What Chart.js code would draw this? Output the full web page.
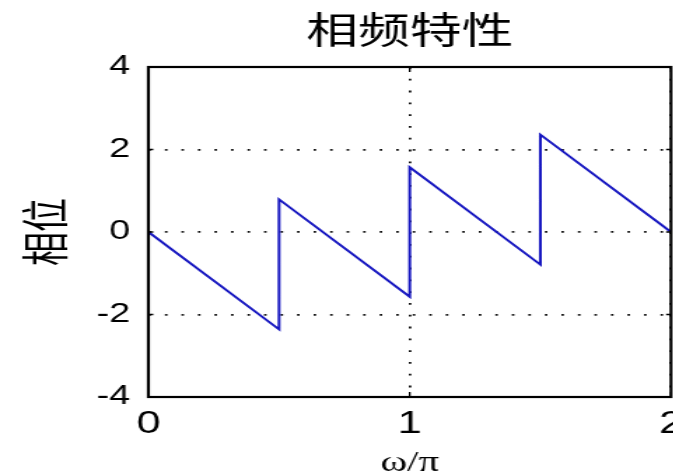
<!DOCTYPE html>
<html>
<head>
<meta charset="utf-8">
<script src="https://cdn.jsdelivr.net/npm/chart.js@4"></script>
<style>
  html, body { margin: 0; padding: 0; background: #fff; overflow: hidden; }
  #wrap { width: 673px; height: 474px; overflow: hidden; position: relative; background: #fff; }
  /* the figure is drawn narrow and widened horizontally */
  #c { position: absolute; left: 0; top: 0; transform: scaleX(1.4); transform-origin: 0 0; }
</style>
</head>
<body>
<div id="wrap"><canvas id="c" width="481" height="474"></canvas></div>
<script>
// phase response: frequency (in units of pi) and phase (rad), vertices of the wrapped line
const omegaOverPi = [0, 0.5, 0.5, 1, 1, 1.5, 1.5, 2];
const phase       = [0, -2.36, 0.79, -1.57, 1.57, -0.79, 2.36, 0];

const xTickValues = [0, 1, 2];
const yTickValues = [-4, -2, 0, 2, 4];

const titleText = '相频特性';
const xTitle = 'ω/π';
const yTitle = '相位';

const points = omegaOverPi.map((w, i) => ({ x: w, y: phase[i] }));

// axes box with short inward tick marks on all four sides
const frame = {
  id: 'frame',
  afterDatasetsDraw(chart) {
    const { ctx, chartArea: a, scales: { x, y } } = chart;
    ctx.save();
    ctx.strokeStyle = '#000';
    ctx.lineWidth = 1.3;
    ctx.beginPath();
    x.ticks.forEach(t => {
      const px = x.getPixelForValue(t.value);
      ctx.moveTo(px, a.bottom); ctx.lineTo(px, a.bottom - 5);
      ctx.moveTo(px, a.top);    ctx.lineTo(px, a.top + 5);
    });
    y.ticks.forEach(t => {
      const py = y.getPixelForValue(t.value);
      ctx.moveTo(a.left, py);  ctx.lineTo(a.left + 3.5, py);
      ctx.moveTo(a.right, py); ctx.lineTo(a.right - 3.5, py);
    });
    ctx.stroke();
    ctx.lineWidth = 2.2;
    ctx.strokeRect(a.left, a.top, a.right - a.left, a.bottom - a.top);
    ctx.restore();
  }
};

const gridStyle = { color: '#111', lineWidth: 1.8, drawTicks: false };
const dotted = { display: false, dash: [1.8, 10] };

new Chart(document.getElementById('c'), {
  type: 'scatter',
  data: {
    datasets: [{
      data: points,
      showLine: true,
      borderColor: '#1616c0',
      borderWidth: 2,
      pointRadius: 0,
      tension: 0,
      clip: false
    }]
  },
  options: {
    responsive: false,
    animation: false,
    events: [],
    layout: { padding: { left: 0, right: 1.7, top: 0, bottom: 0 } },
    plugins: {
      legend: { display: false },
      tooltip: { enabled: false },
      title: {
        display: true,
        text: titleText,
        fullSize: false,
        color: '#000',
        font: { family: '"Noto Sans CJK SC", sans-serif', size: 37, weight: 'normal', lineHeight: 1 },
        padding: { top: 11, bottom: 19 }
      }
    },
    scales: {
      x: {
        type: 'linear',
        min: 0, max: 2,
        afterBuildTicks(s) { s.ticks = xTickValues.map(v => ({ value: v })); },
        afterFit(s) { s.height = 77; s.paddingLeft = 0; s.paddingRight = 0; },
        grid: gridStyle,
        border: dotted,
        ticks: {
          color: '#000', padding: 9, maxRotation: 0,
          font: { family: '"Liberation Sans", Arial, sans-serif', size: 31 },
          callback: v => String(v)
        },
        title: {
          display: true, text: xTitle, color: '#000',
          font: { family: '"Liberation Serif", serif', size: 29, lineHeight: 1 },
          padding: { top: 0, bottom: -4 }
        }
      },
      y: {
        type: 'linear',
        min: -4, max: 4,
        afterBuildTicks(s) { s.ticks = yTickValues.map(v => ({ value: v })); },
        afterFit(s) { s.width = 106; },
        grid: gridStyle,
        border: dotted,
        ticks: {
          color: '#000', padding: 13,
          font: { family: '"Liberation Sans", Arial, sans-serif', size: 27 },
          callback: v => String(v)
        },
        title: {
          display: true, text: yTitle, color: '#000',
          font: { family: '"Noto Sans CJK SC", sans-serif', size: 34, lineHeight: 1 },
          padding: { top: 15, bottom: 0 }
        }
      }
    }
  },
  plugins: [frame]
});
</script>
</body>
</html>
